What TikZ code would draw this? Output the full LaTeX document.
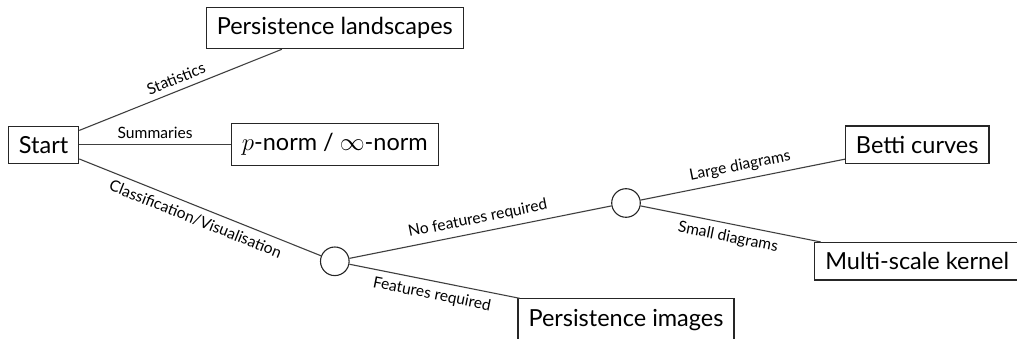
\documentclass[tikz,border=0pt]{standalone}
\usepackage{fontspec}
\setmainfont{Lato}
\begin{document}
\begin{tikzpicture}[
  x=291.2pt, y=-58.3pt,
  box/.style={draw=black!85, line width=1.1pt, fill=white, inner xsep=10.5pt, inner ysep=10pt,
              font=\fontsize{23.5}{26}\selectfont},
  split/.style={circle, draw=black!85, line width=1.1pt, fill=white, inner sep=0pt, minimum size=28.6pt},
  branch/.style={draw=black!75, line width=1.1pt},
  lbl/.style={font=\fontsize{15.6}{18}\selectfont, inner sep=6pt, midway, sloped}
]
\useasboundingbox (-43.6pt,144.7pt) rectangle (973.4pt,-194.3pt);
\clip (-43.6pt,144.7pt) rectangle (973.4pt,-194.3pt);

% decision tree nodes on a regular grid
\node[box] (start) at (0,0) {Start};
\node[box] (land) at (1,-2) {Persistence landscapes};
\node[box] (norm) at (1,0) {$p$-norm / $\infty$-norm};
\node[split] (c1) at (1,2) {};
\node[split] (c2) at (2,1) {};
\node[box] (images) at (2,3) {Persistence images};
\node[box] (betti) at (3,0) {Betti curves};
\node[box] (multi) at (3,2) {Multi-scale kernel};

% branches with their labels
\draw[branch] (start) -- node[lbl, above] {Statistics} (land);
\draw[branch] (start) -- node[lbl, above] {Summaries} (norm);
\draw[branch] (start) -- node[lbl, below] {Classification/Visualisation} (c1);
\draw[branch] (c1) -- node[lbl, above] {No features required} (c2);
\draw[branch] (c1) -- node[lbl, below] {Features required} (images);
\draw[branch] (c2) -- node[lbl, above] {Large diagrams} (betti);
\draw[branch] (c2) -- node[lbl, below] {Small diagrams} (multi);
\end{tikzpicture}
\end{document}
